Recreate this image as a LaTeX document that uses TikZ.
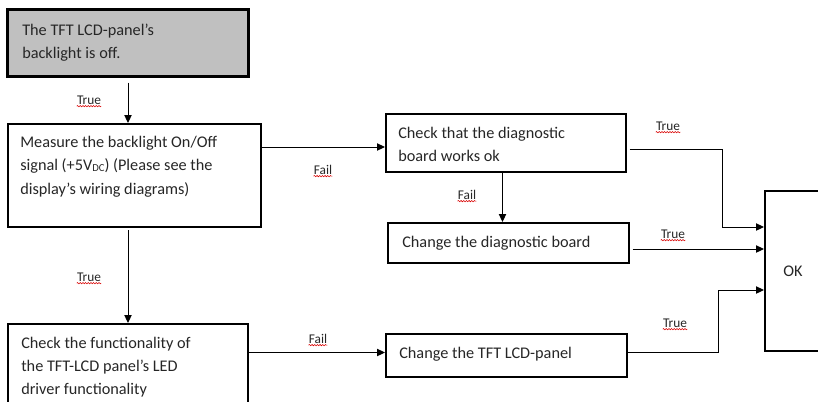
\documentclass[tikz,border=0pt]{standalone}
\usepackage{fontspec}
\setmainfont{Carlito}
\usetikzlibrary{fit,arrows.meta,decorations.pathmorphing}
\definecolor{boxgray}{RGB}{192,192,192}
\definecolor{ink}{RGB}{38,38,38}
\tikzset{
 px/.style={x=0.75pt,y=-0.75pt},
 box/.style={draw=black, line width=1.5pt, inner sep=0pt},
 startbox/.style={box, line width=2.25pt, fill=boxgray},
 txt/.style={inner sep=0pt, anchor=base west, font=\fontsize{12.2}{17.5}\selectfont, text=ink},
 lbl/.style={inner sep=0pt, anchor=base, font=\fontsize{10}{11}\selectfont, text=ink},
 conn/.style={draw=black, line width=0.75pt, -{Triangle[length=6pt,width=5.5pt]}},
 squig/.style={draw=red!85!black, line width=0.4pt, decorate, decoration={snake, amplitude=0.5pt, segment length=2pt}},
}
\newcommand\ml[1]{\parbox[t]{300pt}{\raggedright #1}}
\newcommand\lab[3]{\node[lbl] (#1) at (#2) {#3};
  \draw[squig] ([yshift=-1.6pt]#1.base west) -- ([yshift=-1.6pt]#1.base east);}
\begin{document}
\begin{tikzpicture}[px]
\useasboundingbox (0,0) rectangle (818,401);
\clip (0,0) rectangle (818,401);
% boxes
\node (b1) [startbox, fit={(7.5,9.5) (248.5,76.5)}] {};
\node (b2) [box, fit={(8,124) (261,227)}] {};
\node (b3) [box, fit={(386,114) (626,172)}] {};
\node (b4) [box, fit={(388,223) (629,263)}] {};
\node (ok) [box, fit={(765,191) (840,351)}] {};
\node (b5) [box, fit={(8,324) (248,420)}] {};
\node (b6) [box, fit={(386,334) (627,377)}] {};
% texts
\node[txt] (t1) at (22,35) {\ml{The TFT LCD-panel’s\\backlight is off.}};
\node[txt] (t2) at (20,147.5) {\ml{Measure the backlight On/Off\\signal (+5V{\fontsize{8}{9}\selectfont\raisebox{-0.8pt}{DC}}) (Please see the\\display’s wiring diagrams)}};
\node[txt] (t3) at (398,138) {\ml{Check that the diagnostic\\board works ok}};
\node[txt] (t4) at (402,247) {Change the diagnostic board};
\node[txt] (t5) at (21,348) {\ml{Check the functionality of\\the TFT-LCD panel’s LED\\driver functionality}};
\node[txt] (t6) at (399,358) {Change the TFT LCD-panel};
\node[txt] (t7) at (783,276) {OK};
% helper coordinates
\coordinate (ya) at (0,147);
\coordinate (xb) at (502.5,0);
\coordinate (yc) at (0,149);
\coordinate (xc) at (722,0);
\coordinate (yd) at (0,227);
\coordinate (ye) at (0,249);
\coordinate (yf) at (0,352.5);
\coordinate (xg) at (718,0);
\coordinate (yg) at (0,290);
% connectors
\draw[conn, shorten <=3.5pt] (b1.south) -- (b1.south |- b2.north);
\draw[conn, shorten <=1.5pt] (b1.south |- b2.south) -- (b1.south |- b5.north);
\draw[conn] (b2.east |- ya) -- (b3.west |- ya);
\draw[conn] (xb |- b3.south) -- (xb |- b4.north);
\draw[conn, shorten <=2pt] (b3.east |- yc) -- (xc |- yc) -- (xc |- yd) -- (ok.west |- yd);
\draw[conn, shorten <=2pt] (b4.east |- ye) -- (ok.west |- ye);
\draw[conn] (b5.east |- yf) -- (b6.west |- yf);
\draw[conn] (b6.east |- yf) -- (xg |- yf) -- (xg |- yg) -- (ok.west |- yg);
% labels
\lab{l1}{89,104}{True}
\lab{l2}{323,174}{Fail}
\lab{l3}{467,199}{Fail}
\lab{l4}{668,130}{True}
\lab{l5}{673,238}{True}
\lab{l6}{89,281}{True}
\lab{l7}{318,343}{Fail}
\lab{l8}{675,327}{True}
\end{tikzpicture}
\end{document}
